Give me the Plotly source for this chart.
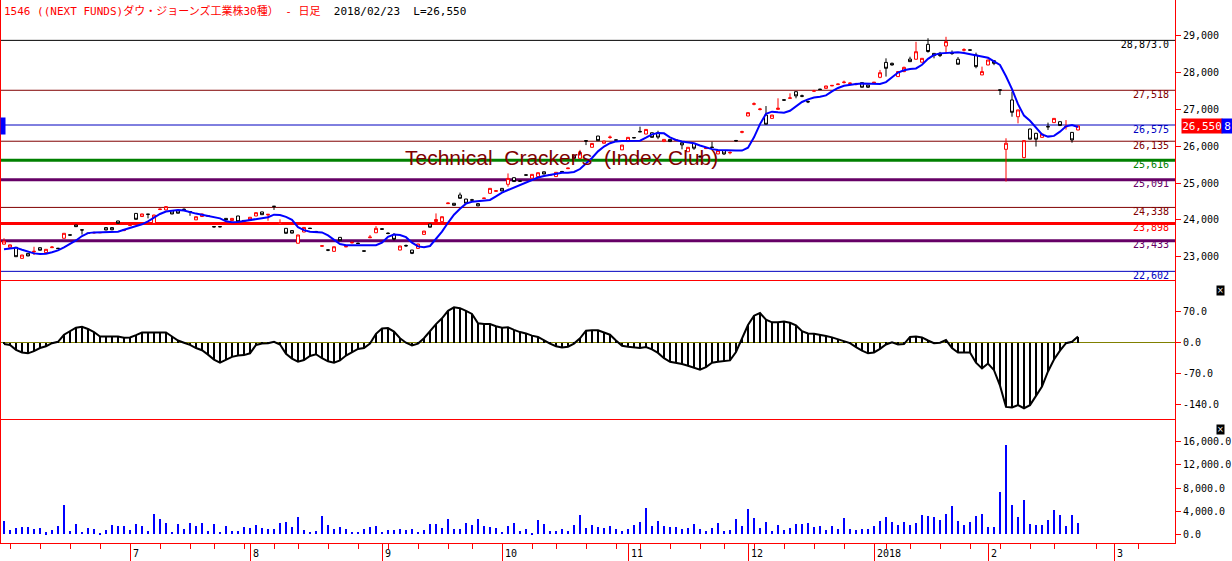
import pandas as pd
import plotly.graph_objects as go

# ---------------- data ----------------
holidays = ["2017-07-17", "2017-08-11", "2017-09-18", "2017-10-09", "2017-11-03",
            "2017-11-23", "2018-01-01", "2018-01-02", "2018-01-03", "2018-01-08", "2018-02-12"]
dates = pd.bdate_range("2017-06-02", "2018-02-23", freq="C", holidays=holidays)

opens = [23340, 23255, 23255, 22955, 23090, 23130, 23245, 23110, 23245, 23230,
         23500, 23595, 23860, 23730, 23640, 23645, 23650, 23790, 23790, 23970,
         23710, 23845, 24175, 24090, 24155, 23905, 24280, 24270, 24250, 24250,
         24290, 24225, 24000, 24090, 24095, 23820, 23818, 24040, 23980, 24105,
         23985, 24000, 24105, 24215, 24135, 24370, 23890, 23770, 23710, 23365,
         23670, 23775, 23685, 23285, 23185, 23145, 23525, 23265, 23375, 23368,
         23160, 23515, 23650, 23760, 23640, 23605, 23180, 23305, 23180, 23225,
         23605, 23885, 23955, 23950, 24440, 24450, 24675, 24565, 24545, 24440,
         24580, 24720, 24775, 24855, 24965, 25145, 25060, 25222, 25130, 25175,
         25305, 25212, 25175, 25312, 25390, 25760, 25670, 26150, 25970, 26275,
         26080, 26235, 26172, 25900, 26125, 26235, 26400, 26330, 26365, 26365,
         26125, 26185, 26160, 26095, 25850, 26075, 25720, 25935, 25975, 25790,
         25880, 25820, 26155, 26378, 26820, 27140, 26995, 26845, 26755, 27000,
         27260, 27300, 27480, 27368, 27214, 27493, 27548, 27570, 27636, 27672,
         27728, 27700, 27674, 27725, 27660, 27715, 27870, 28275, 28250, 27890,
         28025, 28365, 28360, 28280, 28765, 28520, 28520, 28720, 28530, 28360,
         28605, 28615, 28475, 27935, 28205, 28320, 27530, 25915, 27255, 26800,
         25690, 26465, 26350, 26240, 26535, 26640, 26665, 26525, 26375, 26440]
highs = [23500, 23330, 23260, 23050, 23095, 23270, 23250, 23205, 23290, 23240,
         23640, 23600, 23865, 23735, 23645, 23680, 23660, 23795, 23795, 23975,
         23740, 23880, 24180, 24165, 24160, 24140, 24310, 24365, 24255, 24255,
         24310, 24230, 24090, 24165, 24120, 23830, 23828, 24045, 24045, 24110,
         23990, 24075, 24200, 24220, 24155, 24375, 24015, 23775, 23715, 23595,
         23800, 23780, 23700, 23310, 23200, 23275, 23530, 23285, 23420, 23380,
         23165, 23590, 23830, 23765, 23660, 23640, 23295, 23330, 23185, 23350,
         23700, 23890, 24175, 24090, 24470, 24455, 24740, 24570, 24570, 24445,
         24600, 24860, 24795, 24860, 25260, 25150, 25070, 25240, 25240, 25285,
         25310, 25235, 25295, 25330, 25410, 25765, 25900, 26155, 26080, 26280,
         26145, 26290, 26180, 26035, 26245, 26250, 26530, 26460, 26370, 26420,
         26190, 26190, 26180, 26100, 25975, 26080, 25760, 25955, 26120, 25885,
         25885, 25860, 26170, 26420, 26915, 27190, 27040, 27090, 26850, 27300,
         27270, 27435, 27485, 27400, 27240, 27530, 27560, 27640, 27655, 27700,
         27780, 27730, 27720, 27730, 27665, 27740, 28070, 28385, 28270, 28040,
         28160, 28430, 28835, 28390, 28930, 28530, 28560, 28970, 28600, 28420,
         28660, 28620, 28540, 28160, 28345, 28340, 27535, 26215, 27480, 26990,
         26160, 26480, 26360, 26335, 26640, 26760, 26670, 26710, 26380, 26555]
lows = [23330, 23250, 22995, 22950, 23015, 23045, 23170, 23105, 23240, 23215,
        23495, 23580, 23810, 23600, 23625, 23630, 23645, 23720, 23720, 23900,
        23690, 23840, 24010, 24085, 24040, 23900, 24265, 24265, 24155, 24175,
        24260, 24110, 23995, 24085, 24090, 23790, 23795, 23995, 23975, 23945,
        23968, 23995, 24100, 24135, 23975, 24270, 23885, 23630, 23635, 23360,
        23665, 23760, 23660, 23270, 23150, 23140, 23430, 23260, 23360, 23340,
        23145, 23505, 23645, 23740, 23610, 23440, 23175, 23270, 23070, 23220,
        23600, 23795, 23950, 23945, 24430, 24390, 24580, 24445, 24520, 24370,
        24575, 24715, 24770, 24780, 24900, 25030, 25040, 25200, 25125, 25170,
        25240, 25200, 25170, 25295, 25385, 25660, 25665, 26030, 25960, 26145,
        26075, 26200, 26150, 25895, 26120, 26215, 26385, 26325, 26235, 26190,
        26120, 26120, 26155, 25915, 25845, 25900, 25690, 25930, 25960, 25785,
        25760, 25780, 26130, 26350, 26815, 27110, 26970, 26590, 26750, 26995,
        27235, 27295, 27300, 27330, 27170, 27470, 27525, 27565, 27630, 27665,
        27700, 27690, 27650, 27595, 27580, 27710, 27845, 27890, 28190, 27880,
        28010, 28290, 28355, 28275, 28540, 28385, 28420, 28525, 28480, 28220,
        28570, 28600, 28115, 27930, 28200, 28200, 27390, 25040, 26800, 26620,
        25670, 26185, 25990, 26235, 26440, 26635, 26555, 26450, 26095, 26435]
closes = [23425, 23320, 23000, 23045, 23020, 23145, 23175, 23200, 23260, 23220,
          23635, 23585, 23815, 23725, 23630, 23655, 23655, 23725, 23730, 23905,
          23730, 23875, 24015, 24160, 24150, 24130, 24290, 24360, 24160, 24180,
          24280, 24220, 24085, 24160, 24115, 23810, 23812, 24000, 24040, 23950,
          23972, 24070, 24195, 24140, 24150, 24365, 23925, 23635, 23640, 23590,
          23795, 23765, 23675, 23295, 23178, 23270, 23435, 23280, 23385, 23358,
          23150, 23530, 23770, 23745, 23630, 23470, 23290, 23295, 23090, 23345,
          23695, 23800, 24010, 24085, 24455, 24395, 24585, 24450, 24535, 24380,
          24590, 24855, 24790, 24785, 25125, 25040, 25050, 25214, 25235, 25280,
          25245, 25224, 25290, 25305, 25405, 25670, 25830, 26140, 26075, 26150,
          26140, 26245, 26164, 26030, 26240, 26227, 26390, 26455, 26240, 26245,
          26185, 26125, 26175, 26035, 25970, 25945, 25712, 25950, 25965, 25880,
          25790, 25830, 26145, 26392, 26910, 27150, 27008, 26595, 26845, 27030,
          27250, 27310, 27365, 27358, 27204, 27503, 27540, 27635, 27650, 27686,
          27738, 27712, 27684, 27600, 27600, 27735, 27995, 28115, 28205, 28025,
          28140, 28295, 28565, 28385, 28570, 28460, 28460, 28840, 28515, 28225,
          28620, 28608, 28160, 28025, 28340, 28250, 27520, 26080, 26920, 26985,
          26150, 26190, 26190, 26330, 26525, 26755, 26560, 26535, 26170, 26550]
moving_avg = [23200, 23218, 23245, 23190, 23140, 23090, 23073, 23082, 23120, 23170,
              23250, 23335, 23440, 23560, 23640, 23660, 23662, 23662, 23662, 23680,
              23730, 23780, 23840, 23880, 23960, 24070, 24160, 24225, 24255, 24270,
              24255, 24205, 24170, 24140, 24110, 24070, 24040, 23960, 23935, 23945,
              23970, 23995, 24010, 24030, 24070, 24140, 24130, 24080, 24000, 23800,
              23720, 23680, 23680, 23660, 23580, 23450, 23345, 23310, 23308, 23308,
              23308, 23308, 23310, 23380, 23540, 23600, 23590, 23530, 23380, 23280,
              23254, 23290, 23470, 23680, 23920, 24140, 24300, 24440, 24490, 24505,
              24505, 24540, 24640, 24740, 24810, 24880, 24960, 25010, 25090, 25150,
              25190, 25220, 25260, 25280, 25281, 25300, 25380, 25530, 25680, 25860,
              25990, 26080, 26130, 26140, 26140, 26150, 26150, 26230, 26320, 26360,
              26350, 26240, 26170, 26130, 26100, 26080, 26020, 25960, 25920, 25897,
              25885, 25880, 25880, 25880, 25960, 26240, 26600, 26880, 26937, 26920,
              26910, 26960, 27080, 27200, 27270, 27320, 27340, 27380, 27490, 27580,
              27640, 27670, 27688, 27700, 27690, 27680, 27689, 27740, 27880, 28000,
              28060, 28096, 28110, 28210, 28370, 28476, 28520, 28535, 28549, 28549,
              28530, 28500, 28466, 28450, 28400, 28300, 28205, 27900, 27550, 27140,
              26830, 26690, 26500, 26320, 26260, 26280, 26395, 26540, 26576, 26520]
oscillator = [-3, -5, -16, -22, -24, -19, -12, -8, -1, 2,
              18, 27, 34, 36, 31, 24, 14, 14, 14, 14,
              11, 12, 17, 23, 23, 23, 23, 23, 14, 5,
              0, -5, -12, -17, -27, -38, -45, -39, -32, -29,
              -28, -24, -5, -2, -1, 2, -4, -25, -36, -43,
              -39, -30, -26, -35, -42, -45, -40, -29, -21, -14,
              -12, -2, 20, 32, 33, 25, 10, 0, -6, -2,
              10, 27, 42, 55, 72, 80, 78, 72, 65, 44,
              42, 42, 37, 34, 35, 29, 24, 21, 16, 13,
              5, -2, -8, -11, -9, -2, 10, 27, 28, 28,
              23, 18, 5, -7, -9, -11, -12, -10, -15, -23,
              -35, -43, -45, -48, -52, -56, -61, -55, -45, -43,
              -41, -40, -21, 8, 40, 61, 67, 52, 46, 46,
              48, 45, 39, 26, 21, 20, 18, 15, 12, 8,
              4, -1, -10, -18, -24, -22, -14, -4, 1, -4,
              -3, 13, 14, 12, 5, -1, 0, 6, -12, -22,
              -22, -22, -45, -58, -47, -62, -97, -145, -146, -141,
              -148, -141, -120, -99, -65, -38, -18, -1, 2, 14]
volume = [2300, 740, 1150, 1320, 1320, 920, 1150, 340, 740, 1490,
          5060, 570, 1780, 450, 1030, 920, 280, 740, 1610, 1490,
          1490, 740, 1780, 1490, 570, 3510, 2640, 2010, 450, 1780,
          920, 1950, 1430, 1950, 570, 1780, 450, 1430, 570, 570,
          1320, 1150, 1610, 1150, 920, 920, 2010, 2180, 1320, 3050,
          740, 450, 630, 3220, 1610, 920, 1320, 920, 450, 450,
          920, 1320, 1490, 450, 740, 740, 920, 740, 920, 450,
          740, 1780, 1780, 1150, 2640, 860, 970, 1950, 1610, 2640,
          1430, 1320, 1150, 450, 1430, 1950, 630, 920, 280, 2470,
          1780, 630, 630, 920, 630, 1610, 3340, 1090, 1610, 1320,
          1030, 1430, 970, 570, 920, 1600, 2180, 4600, 1430, 2290,
          1430, 1320, 1260, 970, 1090, 1780, 970, 510, 1090, 1950,
          630, 800, 2640, 1430, 4370, 2820, 1090, 2120, 510, 1600,
          750, 1090, 1780, 1780, 1950, 1320, 1430, 750, 1430, 920,
          2820, 920, 750, 860, 920, 1430, 2290, 2990, 2120, 1600,
          2120, 1600, 1950, 3330, 3160, 2990, 2470, 3510, 4890, 2290,
          1600, 2120, 3160, 3510, 1260, 1260, 7310, 15430, 5060, 2990,
          5920, 1780, 1600, 1600, 2470, 4200, 3330, 1430, 3330, 1950]

levels = [28873, 27518, 26575, 26135, 25616, 25091, 24338, 23898, 23433, 22602]
level_labels = ["28,873.0", "27,518", "26,575", "26,135", "25,616", "25,091",
                "24,338", "23,898", "23,433", "22,602"]
level_colors = ["#000000", "#800000", "#0000c0", "#800000", "#008000", "#660066",
                "#800000", "#ff0000", "#660066", "#0000c0"]
level_widths = [1, 1, 1, 1, 3, 3, 1, 3, 3, 1]

price_ticks = [23000, 24000, 25000, 26000, 27000, 28000, 29000]
price_ticktext = ["23,000", "24,000", "25,000", "26,000", "27,000", "28,000", "29,000"]
osc_ticks = [70, 0, -70, -140]
osc_ticktext = ["70.0", "0.0", "-70.0", "-140.0"]
vol_ticks = [0, 4000, 8000, 12000, 16000]
vol_ticktext = ["0.0", "4,000.0", "8,000.0", "12,000.0", "16,000.0"]
month_labels = ["7", "8", "9", "10", "11", "12", "2018", "2", "3"]

title_red = "1546 ((NEXT FUNDS)ダウ・ジョーンズ工業株30種） - 日足"
title_black = "2018/02/23  L=26,550"
watermark = "Technical  Cracker's  (Index Club)"

# ---------------- positions ----------------
n = len(dates)
x = list(range(n))
last = dates[-1]
month_idx = [i for i in range(1, n) if dates[i].month != dates[i - 1].month]
month_idx.append(n - 1 + (pd.Timestamp("2018-03-01") - last).days)
week_idx = [i for i in range(1, n)
            if dates[i].isocalendar()[1] != dates[i - 1].isocalendar()[1]]
for d in pd.date_range(last + pd.Timedelta(days=1), periods=20, freq="W-MON"):
    week_idx.append(n - 1 + (d - last).days)

W, H = 1232, 561
ML, MR, MT, MB = 0, 57, 0, 18
PH = H - MT - MB
PW = W - ML - MR

def py(pix):  # pixel from top -> paper y
    return 1 - (pix - MT) / PH

def px(pix):
    return (pix - ML) / PW

d_price = [py(281), 1]
d_osc = [py(420), py(281)]
d_vol = [0, py(420)]

mono = "DejaVu Sans Mono, Noto Sans CJK JP"

fig = go.Figure()

fig.add_trace(go.Candlestick(
    x=x, open=opens, high=highs, low=lows, close=closes,
    increasing=dict(line=dict(color="#ff0000", width=1), fillcolor="white"),
    decreasing=dict(line=dict(color="#000000", width=1), fillcolor="white"),
    whiskerwidth=0, xaxis="x", yaxis="y", hoverinfo="skip"))
fig.add_trace(go.Scatter(x=x, y=moving_avg, mode="lines",
                         line=dict(color="#0000ff", width=2), xaxis="x", yaxis="y"))
fig.add_trace(go.Scatter(x=[(1169 - 4) / 6] * len(levels), y=levels, mode="text",
                         text=level_labels, textposition="bottom left",
                         textfont=dict(color=level_colors, size=10, family=mono),
                         xaxis="x", yaxis="y"))

fig.add_trace(go.Bar(x=x, y=oscillator, width=0.17, marker=dict(color="black", line=dict(width=0)),
                     xaxis="x", yaxis="y2"))
fig.add_trace(go.Scatter(x=x, y=oscillator, mode="lines",
                         line=dict(color="black", width=2), xaxis="x", yaxis="y2"))

fig.add_trace(go.Bar(x=x, y=volume, width=0.35, marker=dict(color="#0000ff", line=dict(width=0)),
                     xaxis="x", yaxis="y3"))

shapes = []
for lv, c, w in zip(levels, level_colors, level_widths):
    shapes.append(dict(type="line", xref="paper", x0=0, x1=1, yref="y", y0=lv, y1=lv,
                       line=dict(color=c, width=w), layer="below"))
for yy in (py(280.5), py(419.5)):
    shapes.append(dict(type="line", xref="paper", x0=0, x1=1, yref="paper", y0=yy, y1=yy,
                       line=dict(color="#ff0000", width=1)))
shapes.append(dict(type="line", xref="paper", x0=0, x1=0, yref="paper", y0=0, y1=1,
                   line=dict(color="#ff0000", width=2)))

annotations = [
    dict(xref="paper", yref="paper", x=px(2), y=py(11), xanchor="left", yanchor="middle",
         text=f"<span style='color:#ff0000'>{title_red}</span>\u00a0 {title_black}",
         showarrow=False, font=dict(family=mono, size=11, color="black")),
    dict(xref="paper", yref="y", x=px(561), y=25700, xanchor="center", yanchor="middle",
         text=watermark.replace(" ", "\u00a0"), showarrow=False,
         font=dict(family="Liberation Sans, Arial", size=21, color="#800000")),
    dict(xref="paper", yref="y", x=px(1181), y=closes[-1], xanchor="left", yanchor="middle",
         text=f"{closes[-1]:,}", showarrow=False, bgcolor="#ff0000", borderpad=0,
         width=40, height=14, align="center",
         font=dict(family=mono, size=11, color="white")),
    dict(xref="paper", yref="y", x=px(1221), y=closes[-1], xanchor="left", yanchor="middle",
         text="8", showarrow=False, bgcolor="#0000ff", borderpad=0, width=11, height=14,
         font=dict(family=mono, size=11, color="white")),
    dict(xref="paper", yref="y", x=0, y=closes[-1], xanchor="left", yanchor="middle",
         text=" ", showarrow=False, bgcolor="#0000ff", width=2, height=14,
         font=dict(size=8)),
    dict(xref="paper", yref="paper", x=px(1220), y=py(290), xanchor="center", yanchor="middle",
         text="×", showarrow=False, bgcolor="black", borderpad=0,
         font=dict(size=8, color="white", family="DejaVu Sans")),
    dict(xref="paper", yref="paper", x=px(1220), y=py(429), xanchor="center", yanchor="middle",
         text="×", showarrow=False, bgcolor="black", borderpad=0,
         font=dict(size=8, color="white", family="DejaVu Sans")),
]
for mi, lab in zip(month_idx, month_labels):
    annotations.append(dict(xref="x", yref="paper", x=mi, y=py(553), xanchor="left",
                            yanchor="middle", xshift=1, text=lab, showarrow=False,
                            font=dict(family=mono, size=10, color="black")))

yax_common = dict(side="right", anchor="x", showgrid=False, zeroline=False, ticks="outside",
                  ticklen=5, tickcolor="#ff0000", showline=True, linecolor="#ff0000",
                  linewidth=1, tickfont=dict(family=mono, size=10, color="black"))

fig.update_layout(
    width=W, height=H, margin=dict(l=ML, r=MR, t=MT, b=MB, pad=0),
    paper_bgcolor="white", plot_bgcolor="white", showlegend=False, hovermode=False,
    bargap=0,
    xaxis=dict(domain=[0, 1], range=[-0.667, (1175 - 4) / 6], anchor="y3",
               showgrid=False, zeroline=False, showline=True, linecolor="#ff0000",
               ticks="outside", tickvals=month_idx, ticklen=18, tickcolor="#ff0000",
               showticklabels=False, rangeslider=dict(visible=False),
               minor=dict(tickvals=week_idx, ticklen=5, tickcolor="#ff0000",
                          ticks="outside", showgrid=False)),
    yaxis=dict(domain=d_price, range=[22340, 29969], tickvals=price_ticks,
               ticktext=price_ticktext, **yax_common),
    yaxis2=dict(domain=d_osc, range=[-174.5, 139.3], tickvals=osc_ticks,
                ticktext=osc_ticktext, **{**yax_common, "zeroline": True},
                zerolinecolor="#808000", zerolinewidth=1),
    yaxis3=dict(domain=d_vol, range=[-1503, 19748], tickvals=vol_ticks,
                ticktext=vol_ticktext, **yax_common),
    shapes=shapes, annotations=annotations,
)

fig.write_html("out.html", config={"displayModeBar": False},
               post_script="document.body.style.margin='0px';document.body.style.padding='0px';"
                           "document.body.style.overflow='hidden';")
